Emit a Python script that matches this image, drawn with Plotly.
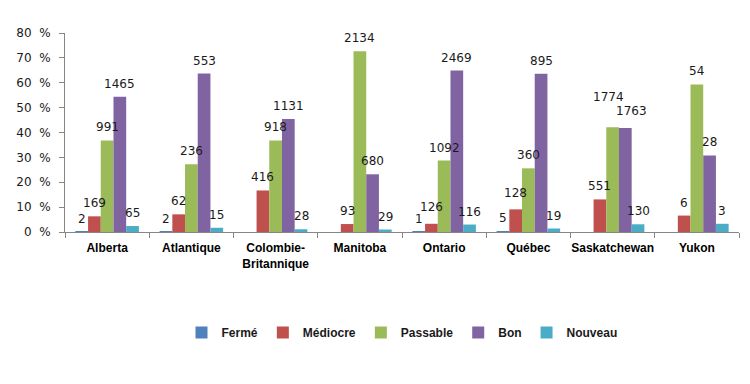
import plotly.graph_objects as go

categories = ["Alberta", "Atlantique", "Colombie-<br>Britannique", "Manitoba",
              "Ontario", "Québec", "Saskatchewan", "Yukon"]
series_names = ["Fermé", "Médiocre", "Passable", "Bon", "Nouveau"]

# counts shown as labels (None = no label)
ferme_n    = [2, 2, None, None, 1, 5, None, None]
mediocre_n = [169, 62, 416, 93, 126, 128, 551, 6]
passable_n = [991, 236, 918, 2134, 1092, 360, 1774, 54]
bon_n      = [1465, 553, 1131, 680, 2469, 895, 1763, 28]
nouveau_n  = [65, 15, 28, 29, 116, 19, 130, 3]

# percentages (bar heights)
ferme_p    = [0.1, 0.2, 0.0, 0.0, 0.03, 0.4, 0.0, 0.0]
mediocre_p = [6.3, 7.1, 16.7, 3.2, 3.3, 9.1, 13.1, 6.6]
passable_p = [36.8, 27.2, 36.8, 72.7, 28.7, 25.6, 42.1, 59.3]
bon_p      = [54.4, 63.7, 45.4, 23.2, 64.9, 63.6, 41.8, 30.8]
nouveau_p  = [2.4, 1.7, 1.1, 1.0, 3.0, 1.4, 3.1, 3.3]

yticks = [0, 10, 20, 30, 40, 50, 60, 70, 80]
ytick_labels = ["0  %", "10  %", "20  %", "30  %", "40  %", "50  %", "60  %", "70  %", "80  %"]

colors = ["#4F81BD", "#C0504D", "#9BBB59", "#8064A2", "#4BACC6"]
counts = [ferme_n, mediocre_n, passable_n, bon_n, nouveau_n]
pcts = [ferme_p, mediocre_p, passable_p, bon_p, nouveau_p]

W, H = 750, 384
# page body has an 8px margin, so compensate
ML, MR, MT, MB = 57, 19, 25, 160
BARGAP = 0.246

fig = go.Figure()
for name, col, p in zip(series_names, colors, pcts):
    fig.add_trace(go.Bar(x=categories, y=p, name="<b>%s</b>" % name, marker_color=col,
                         marker_line_width=0))

plot_w = W - ML - MR
bar_px = plot_w / len(categories) * (1 - BARGAP) / len(series_names)

# label nudges (style tweaks to avoid overlap): (cat index, series index) -> (dx, dy)
nudges = {(6, 2): (-4, 17), (6, 3): (6, 4), (4, 1): (0, 4), (5, 1): (0, 3)}

for si, (n, p) in enumerate(zip(counts, pcts)):
    for ci, cat in enumerate(categories):
        if n[ci] is None:
            continue
        dx, dy = nudges.get((ci, si), (0, 0))
        fig.add_annotation(x=cat, y=p[ci], text=str(n[ci]), showarrow=False,
                           xref="x", yref="y", yanchor="bottom",
                           xshift=(si - 2) * bar_px + dx, yshift=4 + dy,
                           font=dict(family="DejaVu Sans", size=12, color="#1a1a1a"))

fig.update_layout(
    width=W, height=H,
    margin=dict(l=ML, r=MR, t=MT, b=MB, autoexpand=False),
    paper_bgcolor="white", plot_bgcolor="white",
    barmode="group", bargap=BARGAP, bargroupgap=0,
    showlegend=True,
    legend=dict(orientation="h", x=0.5, xanchor="center", y=-0.505, yanchor="middle",
                font=dict(family="Liberation Sans", size=12, color="#1a1a1a"),
                itemwidth=30, traceorder="normal"),
    font=dict(family="Liberation Sans"),
)
fig.update_xaxes(showline=True, linecolor="#868686", linewidth=1,
                 ticks="outside", ticklen=5, tickcolor="#868686", tickson="boundaries",
                 tickangle=0, automargin=False, ticklabelstandoff=5,
                 tickvals=categories, ticktext=["<b>%s</b>" % c for c in categories],
                 tickfont=dict(family="Liberation Sans", size=12, color="#000000"),
                 showgrid=False, fixedrange=True)
fig.update_yaxes(range=[0, 80], tickvals=yticks, ticktext=ytick_labels, automargin=False,
                 showline=True, linecolor="#868686", linewidth=1,
                 ticks="outside", ticklen=5, tickcolor="#868686", ticklabelstandoff=6,
                 tickfont=dict(family="DejaVu Sans", size=12, color="#1a1a1a"),
                 showgrid=False, zeroline=False, fixedrange=True)

fig.write_html("out.html")
